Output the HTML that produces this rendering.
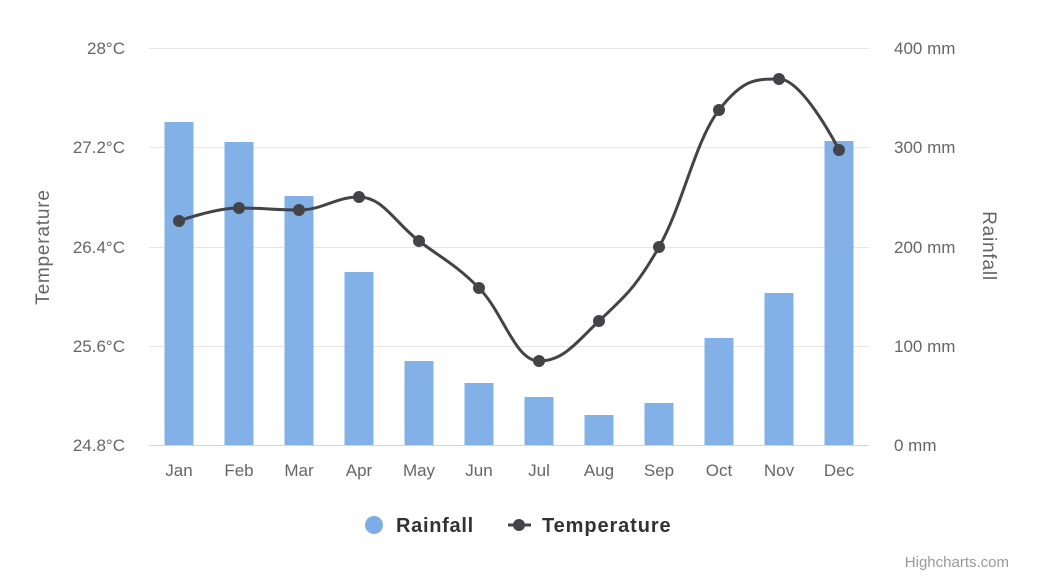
<!DOCTYPE html>
<html><head><meta charset="utf-8"><style>
body{margin:0;background:#fff;}
svg{display:block;font-family:"Liberation Sans",sans-serif;}
</style></head><body>
<svg id="c" width="1042" height="587" xmlns="http://www.w3.org/2000/svg">
<rect width="1042" height="587" fill="#fff"/>
<g stroke="#e6e6e6" stroke-width="1">
<line x1="149" x2="869" y1="48.5" y2="48.5"/>
<line x1="149" x2="869" y1="147.5" y2="147.5"/>
<line x1="149" x2="869" y1="247.5" y2="247.5"/>
<line x1="149" x2="869" y1="346.5" y2="346.5"/>
</g>
<line x1="149" x2="869" y1="445.5" y2="445.5" stroke="#ccd6eb"/>
<g fill="#666" font-size="17" text-anchor="end">
<text x="125" y="54">28°C</text><text x="125" y="153">27.2°C</text><text x="125" y="253">26.4°C</text><text x="125" y="352">25.6°C</text><text x="125" y="451">24.8°C</text>
</g>
<g fill="#666" font-size="17" text-anchor="start">
<text x="894" y="54">400 mm</text><text x="894" y="153">300 mm</text><text x="894" y="253">200 mm</text><text x="894" y="352">100 mm</text><text x="894" y="451">0 mm</text>
</g>
<text transform="translate(49,247) rotate(-90)" fill="#666" font-size="19" letter-spacing="0.8" text-anchor="middle">Temperature</text>
<text transform="translate(983,246) rotate(90)" fill="#666" font-size="19" letter-spacing="0.8" text-anchor="middle">Rainfall</text>
<g id="bars" fill="#7cade6" opacity="0.95"></g>
<g id="xl" fill="#666" font-size="17" text-anchor="middle"></g>
<path id="ln" fill="none" stroke="#434348" stroke-width="3"/>
<g id="pts" fill="#434348"></g>
<circle cx="374" cy="525" r="9" fill="#7cade6"/>
<text x="396" y="532" font-size="20" font-weight="bold" letter-spacing="0.7" fill="#333">Rainfall</text>
<line x1="508" x2="531" y1="525" y2="525" stroke="#434348" stroke-width="3"/>
<circle cx="519" cy="525" r="6" fill="#434348"/>
<text x="542" y="532" font-size="20" font-weight="bold" letter-spacing="0.9" fill="#333">Temperature</text>
<text x="1009" y="567" font-size="15" fill="#999" text-anchor="end">Highcharts.com</text>
</svg>
<script>
var m=["Jan","Feb","Mar","Apr","May","Jun","Jul","Aug","Sep","Oct","Nov","Dec"];
var bt=[122,142,196,272,361,383,397,415,403,338,293,141];
var ty=[221,208,210,197,241,288,361,321,247,110,79,150];
var ns="http://www.w3.org/2000/svg",b=document.getElementById("bars"),xl=document.getElementById("xl"),pts=document.getElementById("pts");
var xs=[];
for(var i=0;i<12;i++){var x=179+60*i;xs.push(x);
var r=document.createElementNS(ns,"rect");r.setAttribute("x",x-14.5);r.setAttribute("y",bt[i]);r.setAttribute("width",29);r.setAttribute("height",445-bt[i]);b.appendChild(r);
var t=document.createElementNS(ns,"text");t.setAttribute("x",x);t.setAttribute("y",476);t.textContent=m[i];xl.appendChild(t);
var c=document.createElementNS(ns,"circle");c.setAttribute("cx",x);c.setAttribute("cy",ty[i]);c.setAttribute("r",6);pts.appendChild(c);}
function cp(i){var s=1.5,d=s+1;var px=xs[i-1],py=ty[i-1],nx=xs[i+1],ny=ty[i+1],x=xs[i],y=ty[i];
var lx=(s*x+px)/d,ly=(s*y+py)/d,rx=(s*x+nx)/d,ry=(s*y+ny)/d;
var corr=0;if(rx!==lx)corr=((ry-ly)*(rx-x))/(rx-lx)+y-ry;ly+=corr;ry+=corr;
if(ly>py&&ly>y){ly=Math.max(py,y);ry=2*y-ly;}else if(ly<py&&ly<y){ly=Math.min(py,y);ry=2*y-ly;}
if(ry>ny&&ry>y){ry=Math.max(ny,y);ly=2*y-ry;}else if(ry<ny&&ry<y){ry=Math.min(ny,y);ly=2*y-ry;}
return [lx,ly,rx,ry];}
var d="M"+xs[0]+" "+ty[0],prev=[xs[0],ty[0]];
for(var i=1;i<12;i++){var c2=i<11?cp(i):[xs[i],ty[i],0,0];
d+=" C"+prev[0]+" "+prev[1]+" "+c2[0]+" "+c2[1]+" "+xs[i]+" "+ty[i];prev=[c2[2],c2[3]];}
document.getElementById("ln").setAttribute("d",d);
</script>
</body></html>
